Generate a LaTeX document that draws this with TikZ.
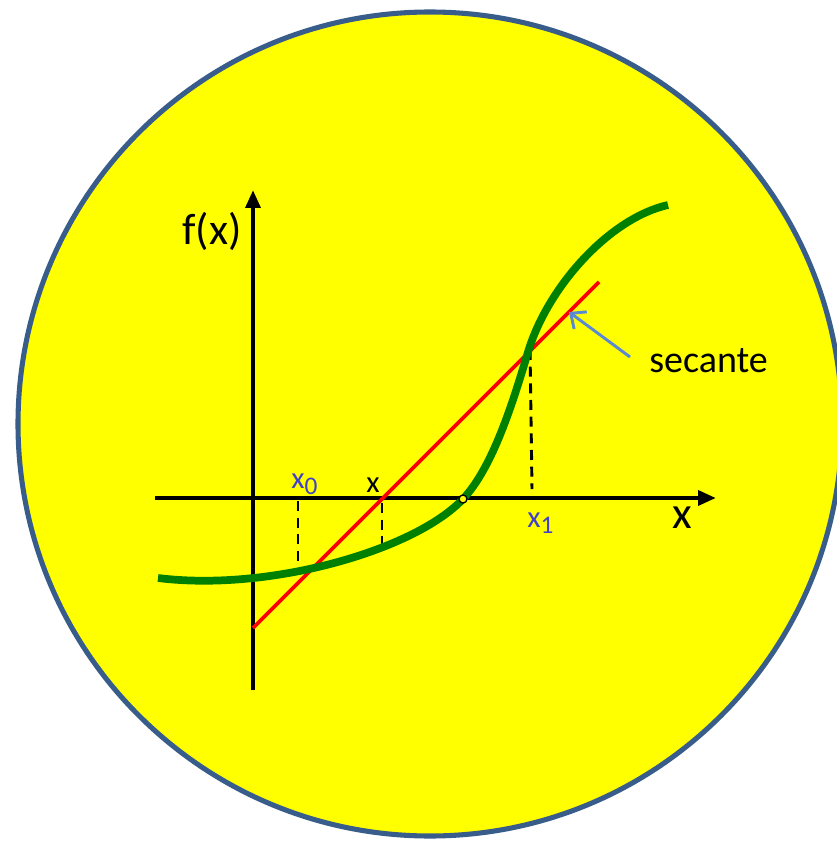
\documentclass[tikz,border=0pt]{standalone}
\usepackage{fontspec}
\setmainfont{Carlito}
\usetikzlibrary{arrows.meta}
\definecolor{ringblue}{RGB}{56,93,138}
\definecolor{fillyellow}{RGB}{255,255,0}
\definecolor{lblblue}{RGB}{64,64,200}
\definecolor{arrblue}{RGB}{91,137,209}
\definecolor{curvegreen}{RGB}{0,128,0}
\tikzset{
  axis/.style={line width=3.2pt,-{Triangle[length=13.5pt,width=11pt]}},
  secline/.style={red,line width=2.8pt},
  fcurve/.style={curvegreen,line width=5.8pt},
  guide/.style={line width=2.2pt,dash pattern=on 7.5pt off 5pt},
  lbl/.style={inner sep=0pt,font=\fontsize{23}{23}\selectfont},
}
\newcommand{\subl}[1]{\raisebox{-5pt}{\fontsize{19}{19}\selectfont #1}}
\begin{document}
\begin{tikzpicture}[x=0.75pt,y=-0.75pt]
\useasboundingbox (0,0) rectangle (836,841);
\draw[ringblue,fill=fillyellow,line width=3.8pt] (430,424) circle[radius=412];
% axes
\coordinate (xs) at (155,498);
\coordinate (xe) at (716,498);
\coordinate (ys) at (253,690);
\coordinate (ye) at (253,190);
\draw[axis] (xs) -- (xe);
\draw[axis] (ys) -- (ye);
% dashed guides
\coordinate (g0a) at (298,501); \coordinate (g0b) at (298,575);
\coordinate (gxa) at (382,503); \coordinate (gxb) at (382,546);
\coordinate (g1a) at (530,350); \coordinate (g1b) at (532,489);
\draw[guide] (g0a) -- (g0b);
\draw[guide] (gxa) -- (gxb);
\draw[guide] (g1a) -- (g1b);
% secant
\coordinate (sa) at (253,628);
\coordinate (sb) at (599,282);
\draw[secline] (sa) -- (sb);
% curve
\coordinate (c0) at (158,578);
\coordinate (c1) at (463,499);
\coordinate (c2) at (528,352);
\coordinate (c3) at (668,205);
\draw[fcurve] (c0) .. controls (270,592) and (415,550) .. (c1)
  .. controls (493,467) and (513,402) .. (c2)
  .. controls (548,286) and (610,218) .. (c3);
\node[circle,draw=black,fill=fillyellow,line width=1pt,inner sep=0pt,minimum size=6pt] (root) at (c1) {};
% labels
\node[lbl,anchor=base west,font=\fontsize{33}{33}\selectfont] (fx) at (182,245) {f(x)};
\node[lbl,anchor=base west,font=\fontsize{34}{34}\selectfont] (xax) at (672,528) {x};
\node[lbl,anchor=base west,text=lblblue] (x0) at (291,488) {x\subl{0}};
\node[lbl,anchor=base] (xl) at (373,492) {x};
\node[lbl,anchor=base west,text=lblblue] (x1) at (527,527) {x\subl{1}};
\node[lbl,anchor=base west,font=\fontsize{28.5}{28.5}\selectfont] (sec) at (649,372) {secante};
\coordinate (at) at (569,312);
\coordinate (af) at (630,357);
\draw[arrblue,line width=2.2pt,-{Straight Barb[length=9pt,width=16pt]}] (af) -- (at);
\end{tikzpicture}
\end{document}
